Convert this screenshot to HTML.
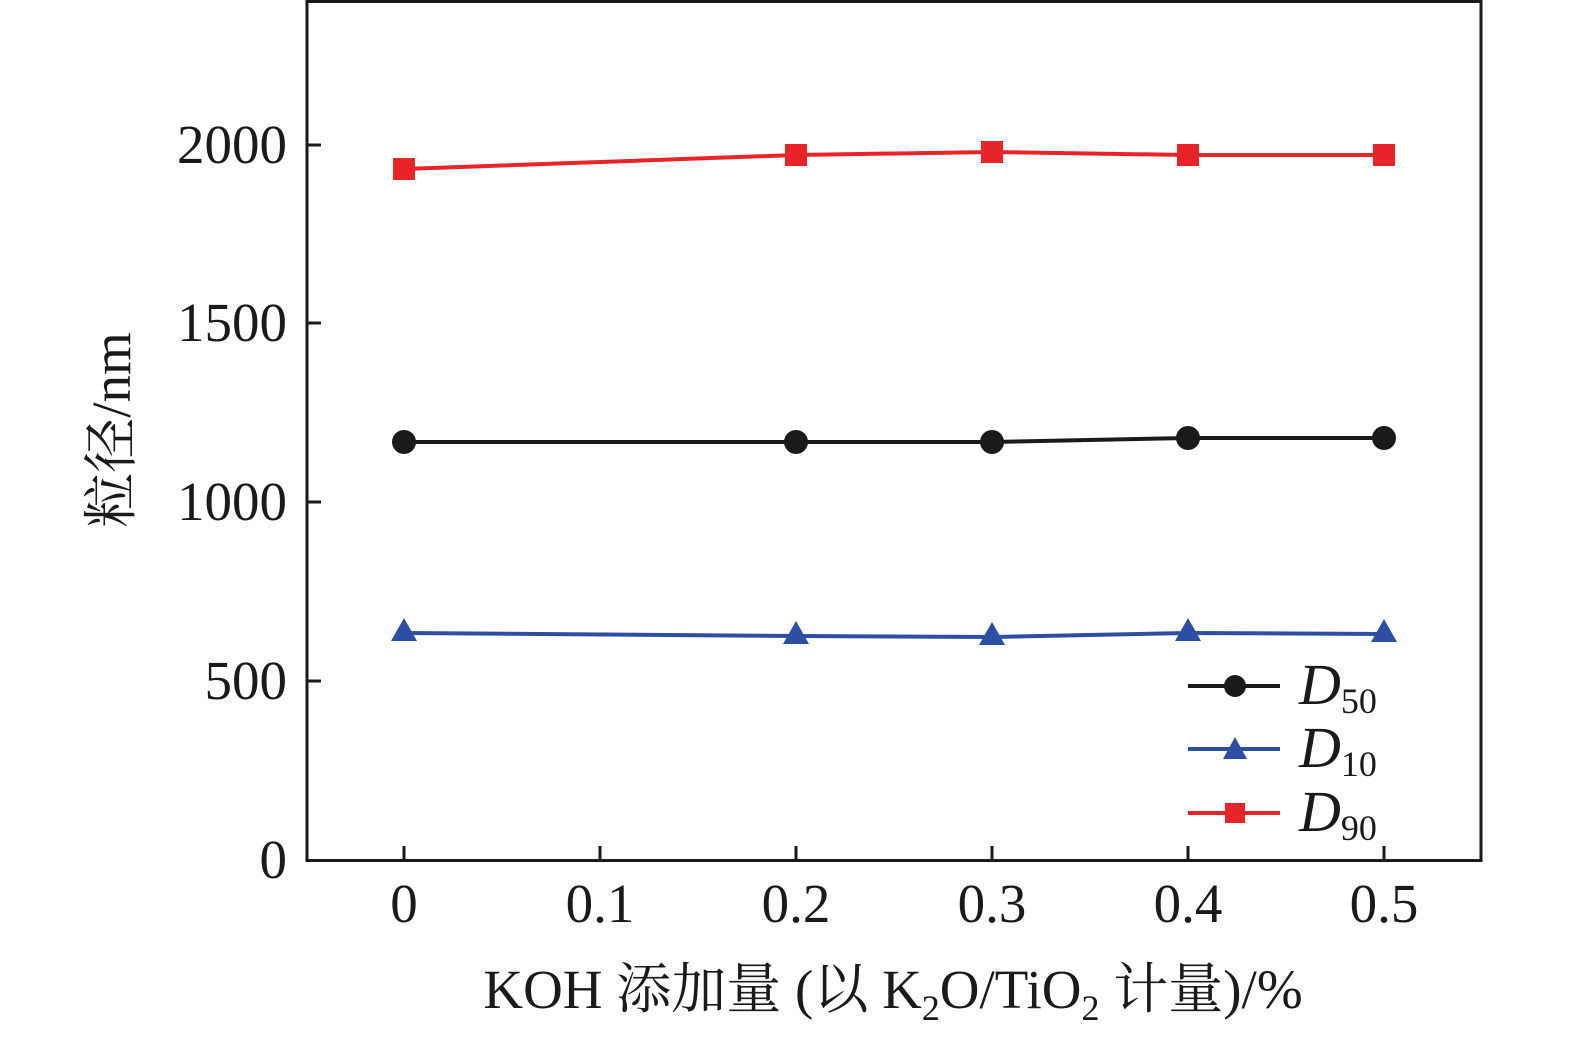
<!DOCTYPE html>
<html><head><meta charset="utf-8"><style>body{margin:0;background:#fff}</style></head><body>
<svg width="1575" height="1041" viewBox="0 0 1575 1041" xmlns="http://www.w3.org/2000/svg" font-family="'Liberation Serif','Noto Serif CJK SC',serif">
<rect x="307" y="1.5" width="1174" height="859" fill="none" stroke="#1a1a1a" stroke-width="3"/>
<g stroke="#1a1a1a" stroke-width="3">
<line x1="307" y1="145" x2="321" y2="145"/><line x1="307" y1="323" x2="321" y2="323"/><line x1="307" y1="502" x2="321" y2="502"/><line x1="307" y1="681" x2="321" y2="681"/>
<line x1="404" y1="860" x2="404" y2="846"/><line x1="600" y1="860" x2="600" y2="846"/><line x1="796" y1="860" x2="796" y2="846"/><line x1="992" y1="860" x2="992" y2="846"/><line x1="1188" y1="860" x2="1188" y2="846"/><line x1="1384" y1="860" x2="1384" y2="846"/>
</g>
<g font-size="55" fill="#1a1a1a" text-anchor="end">
<text x="287" y="163">2000</text><text x="287" y="341">1500</text><text x="287" y="520">1000</text><text x="287" y="699">500</text><text x="287" y="878">0</text>
</g>
<g font-size="55" fill="#1a1a1a" text-anchor="middle">
<text x="404" y="922">0</text><text x="600" y="922">0.1</text><text x="796" y="922">0.2</text><text x="992" y="922">0.3</text><text x="1188" y="922">0.4</text><text x="1384" y="922">0.5</text>
</g>
<text x="893" y="1008" font-size="55" fill="#1a1a1a" text-anchor="middle">KOH 添加量 (以 K<tspan font-size="36" dy="12">2</tspan><tspan dy="-12">O/TiO</tspan><tspan font-size="36" dy="12">2</tspan><tspan dy="-12"> 计量)/%</tspan></text>
<text transform="translate(130,430) rotate(-90)" font-size="55" fill="#1a1a1a" text-anchor="middle">粒径/nm</text>
<polyline points="404,169 796,155 992,152 1188,155 1384,155" fill="none" stroke="#e8232a" stroke-width="4"/>
<g fill="#e8232a"><rect x="393" y="158" width="22" height="22"/><rect x="785" y="144" width="22" height="22"/><rect x="981" y="141" width="22" height="22"/><rect x="1177" y="144" width="22" height="22"/><rect x="1373" y="144" width="22" height="22"/></g>
<polyline points="404,442 796,442 992,442 1188,438 1384,438" fill="none" stroke="#1a1a1a" stroke-width="4"/>
<g fill="#1a1a1a"><circle cx="404" cy="442" r="12"/><circle cx="796" cy="442" r="12"/><circle cx="992" cy="442" r="12"/><circle cx="1188" cy="438" r="12"/><circle cx="1384" cy="438" r="12"/></g>
<polyline points="404,633 796,636 992,637 1188,633 1384,634" fill="none" stroke="#2d4ea3" stroke-width="4"/>
<g fill="#2d4ea3"><polygon points="404,618 391,641 417,641"/><polygon points="796,621 783,644 809,644"/><polygon points="992,622 979,645 1005,645"/><polygon points="1188,618 1175,641 1201,641"/><polygon points="1384,619 1371,642 1397,642"/></g>
<g stroke-width="4">
<line x1="1188" y1="686" x2="1280" y2="686" stroke="#1a1a1a"/><circle cx="1235" cy="686" r="11" fill="#1a1a1a"/>
<line x1="1188" y1="749" x2="1280" y2="749" stroke="#2d4ea3"/><polygon points="1235,737 1223,759 1247,759" fill="#2d4ea3"/>
<line x1="1188" y1="813" x2="1280" y2="813" stroke="#e8232a"/><rect x="1225" y="803" width="20" height="20" fill="#e8232a"/>
</g>
<g font-size="58" fill="#1a1a1a" font-style="italic">
<text x="1299" y="704">D<tspan font-style="normal" font-size="36" dy="9">50</tspan></text>
<text x="1299" y="767">D<tspan font-style="normal" font-size="36" dy="9">10</tspan></text>
<text x="1299" y="831">D<tspan font-style="normal" font-size="36" dy="9">90</tspan></text>
</g>
</svg>
</body></html>
